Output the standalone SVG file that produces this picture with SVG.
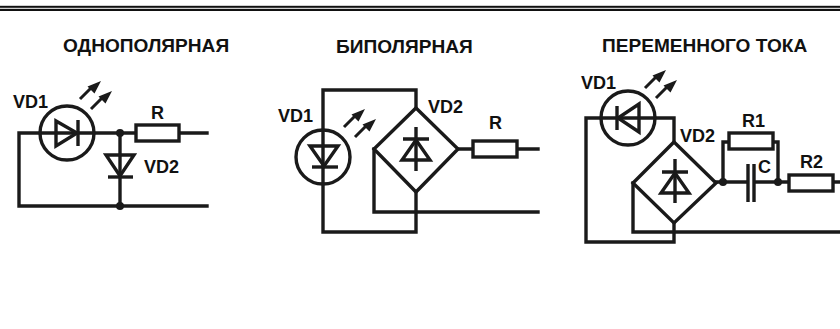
<svg xmlns="http://www.w3.org/2000/svg" width="840" height="329" viewBox="0 0 840 329">
<style>
text{font-family:"Liberation Sans",Arial,sans-serif;font-weight:bold;fill:#111}
.t{font-size:19.100px}.l{font-size:18px}
.w{fill:none;stroke:#1a1a1a;stroke-width:3.400;stroke-linecap:square;stroke-linejoin:miter}
.s{fill:none;stroke:#1a1a1a;stroke-width:3.400;stroke-miterlimit:8}
.r{fill:#fff;stroke:#1a1a1a;stroke-width:3.400}
.d{fill:#1a1a1a}
.ar{stroke:#1a1a1a;stroke-width:3;fill:none}
</style>
<defs>
<g id="arrows"><path class="ar" d="M1 18L12 7M12 28L23 17"/><path class="d" d="M22 0L8.500 5.500L15.500 12.500ZM33 10L19.500 15.500L26.500 22.500Z"/></g>
</defs>
<rect width="840" height="329" fill="#fff"/>
<g id="rule"><rect x="0" y="5.800" width="840" height="2" fill="#111"/><rect x="0" y="8.800" width="840" height="2.200" fill="#111"/></g>
<g id="titles">
<text class="t" x="63" y="52">ОДНОПОЛЯРНАЯ</text>
<text class="t" x="336" y="53">БИПОЛЯРНАЯ</text>
<text class="t" x="602" y="52">ПЕРЕМЕННОГО ТОКА</text>
</g>
<g id="connectors">
<path class="w" d="M207 133H19V206H207"/>
<path class="w" d="M120 133V206"/>
<path class="w" d="M323 232V90H416V108M416 192V232H323"/>
<path class="w" d="M458 149H538"/>
<path class="w" d="M374 149V212H538"/>
<path class="w" d="M674 142V118H586V242H674V223"/>
<path class="w" d="M633 183V232H839"/>
<path class="w" d="M716 182H839"/>
<path class="w" d="M723 182V142H778V182"/>
</g>
<g id="vd1a"><circle class="s" cx="67" cy="133" r="27"/><path class="s" d="M56 121V146L77 133Z"/><path class="s" d="M78 120V146"/><use href="#arrows" x="79" y="81"/><text class="l" x="13" y="108">VD1</text></g>
<g id="vd2a"><path class="s" d="M106 155H134L120 176Z"/><path class="s" d="M108 177H133"/><text class="l" x="144" y="173">VD2</text></g>
<g id="ra"><rect class="r" x="136" y="125" width="43" height="16"/><text class="l" x="151" y="119">R</text></g>
<g id="dotsa"><circle class="d" cx="120" cy="133" r="4"/><circle class="d" cx="120" cy="206" r="4"/></g>
<g id="vd1b"><circle class="s" cx="323" cy="157" r="27"/><path class="s" d="M310 146H338L324 166Z"/><path class="s" d="M312 167H338"/><use href="#arrows" x="343" y="109"/><text class="l" x="278" y="122">VD1</text></g>
<g id="vd2b"><path class="r" d="M416 108L458 149L416 192L374 149Z"/><path class="s" d="M416 127V171M403 139H429"/><path class="s" d="M416 140L402 160H430Z"/><text class="l" x="428" y="113">VD2</text></g>
<g id="rb"><rect class="r" x="473" y="141" width="44" height="16"/><text class="l" x="489" y="129">R</text></g>
<g id="vd1c"><circle class="s" cx="628" cy="118" r="27"/><path class="s" d="M639 104V132L618 118Z"/><path class="s" d="M617 106V130"/><use href="#arrows" x="644" y="70"/><text class="l" x="581" y="89">VD1</text></g>
<g id="vd2c"><path class="r" d="M674 142L716 183L674 223L633 183Z"/><path class="s" d="M675 159V203M662 172H688"/><path class="s" d="M675 173L661 193H689Z"/><text class="l" x="680" y="142">VD2</text></g>
<g id="r1c"><rect class="r" x="729" y="133" width="44" height="16"/><text class="l" x="742" y="127">R1</text></g>
<g id="cc"><rect x="749" y="170" width="5" height="24" fill="#fff"/><path class="s" d="M748 164V202M754 164V202"/><text class="l" x="758" y="173">C</text></g>
<g id="r2c"><rect class="r" x="789" y="175" width="44" height="16"/><text class="l" x="800" y="168">R2</text></g>
<g id="dotsc"><circle class="d" cx="723" cy="182" r="4"/><circle class="d" cx="778" cy="182" r="4"/></g>
</svg>
